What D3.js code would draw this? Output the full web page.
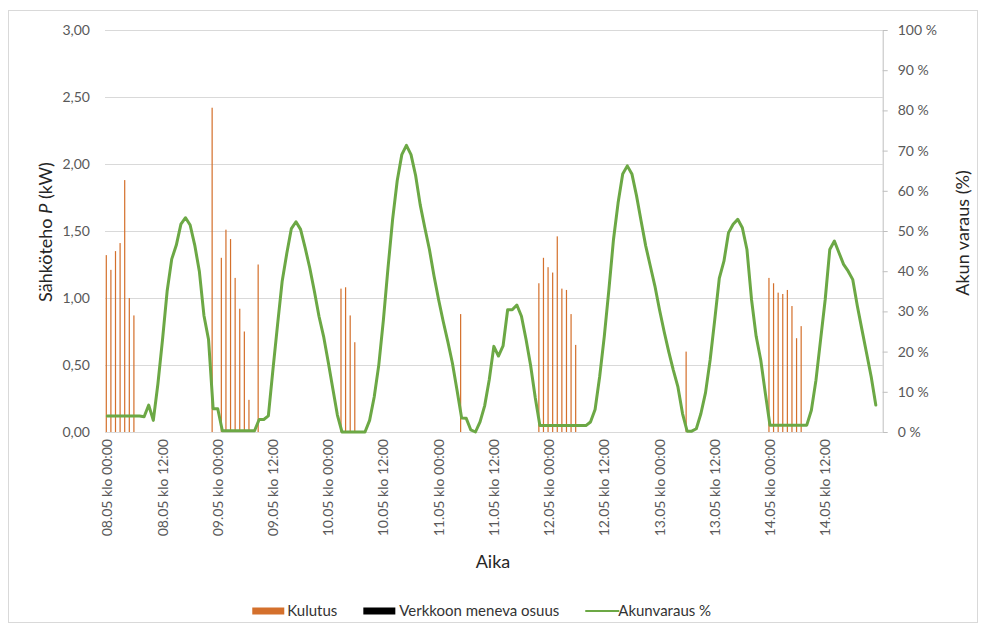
<!DOCTYPE html>
<html>
<head>
<meta charset="utf-8">
<script src="https://cdn.jsdelivr.net/npm/d3@7"></script>
<style>
  body { margin: 0; background: #fff; }
  svg { display: block; }
  text { font-family: Lato, "Open Sans", "Liberation Sans", sans-serif; }
</style>
</head>
<body>
<svg id="chart" width="984" height="629"></svg>
<script>
// ---- data -------------------------------------------------------------
const days = ["08.05", "09.05", "10.05", "11.05", "12.05", "13.05", "14.05"];

const tickLabels = [
  "08.05 klo 00:00", "08.05 klo 12:00", "09.05 klo 00:00", "09.05 klo 12:00",
  "10.05 klo 00:00", "10.05 klo 12:00", "11.05 klo 00:00", "11.05 klo 12:00",
  "12.05 klo 00:00", "12.05 klo 12:00", "13.05 klo 00:00", "13.05 klo 12:00",
  "14.05 klo 00:00", "14.05 klo 12:00"
];

const powerTicks = [0, 0.5, 1, 1.5, 2, 2.5, 3];
const chargeTicks = [0, 10, 20, 30, 40, 50, 60, 70, 80, 90, 100];

// Kulutus (kW), one row per day, hours 00..23
const kulutus = [
  1.32, 1.21, 1.35, 1.41, 1.88, 1.00, 0.87, 0, 0, 0, 0, 0, 0, 0, 0, 0, 0, 0, 0, 0, 0, 0, 0, 2.42,
  0, 1.30, 1.51, 1.44, 1.15, 0.92, 0.75, 0.24, 0, 1.25, 0, 0, 0, 0, 0, 0, 0, 0, 0, 0, 0, 0, 0, 0,
  0, 0, 0, 1.07, 1.08, 0.87, 0.67, 0, 0, 0, 0, 0, 0, 0, 0, 0, 0, 0, 0, 0, 0, 0, 0, 0,
  0, 0, 0, 0, 0, 0.88, 0, 0, 0, 0, 0, 0, 0, 0, 0, 0, 0, 0, 0, 0, 0, 0, 1.11, 1.30,
  1.23, 1.19, 1.46, 1.07, 1.06, 0.88, 0.65, 0, 0, 0, 0, 0, 0, 0, 0, 0, 0, 0, 0, 0, 0, 0, 0, 0,
  0, 0, 0, 0, 0, 0, 0.60, 0, 0, 0, 0, 0, 0, 0, 0, 0, 0, 0, 0, 0, 0, 0, 0, 0,
  1.15, 1.11, 1.04, 1.03, 1.06, 0.94, 0.70, 0.79, 0, 0, 0, 0, 0, 0, 0, 0, 0, 0, 0, 0, 0, 0, 0, 0
];

// Verkkoon meneva osuus (kW)
const verkkoon = [
  0, 0, 0, 0, 0, 0, 0, 0, 0, 0, 0, 0, 0, 0, 0, 0, 0, 0, 0, 0, 0, 0, 0, 0,
  0, 0, 0, 0, 0, 0, 0, 0, 0, 0, 0, 0, 0, 0, 0, 0, 0, 0, 0, 0, 0, 0, 0, 0,
  0, 0, 0, 0, 0, 0, 0, 0, 0, 0, 0, 0, 0, 0, 0, 0, 0, 0, 0, 0, 0, 0, 0, 0,
  0, 0, 0, 0, 0, 0, 0, 0, 0, 0, 0, 0, 0, 0, 0, 0, 0, 0, 0, 0, 0, 0, 0, 0,
  0, 0, 0, 0, 0, 0, 0, 0, 0, 0, 0, 0, 0, 0, 0, 0, 0, 0, 0, 0, 0, 0, 0, 0,
  0, 0, 0, 0, 0, 0, 0, 0, 0, 0, 0, 0, 0, 0, 0, 0, 0, 0, 0, 0, 0, 0, 0, 0,
  0, 0, 0, 0, 0, 0, 0, 0, 0, 0, 0, 0, 0, 0, 0, 0, 0, 0, 0, 0, 0, 0, 0, 0
];

// Akunvaraus (%), one row per day, hours 00..23
const akunvaraus = [
  4.0, 4.0, 4.0, 4.0, 4.0, 4.0, 4.0, 4.0, 3.8, 6.7, 2.9, 12, 23, 35, 43, 46.5, 51.7, 53.3, 51.5, 46.5, 40, 29, 23, 5.8,
  5.8, 0.3, 0.3, 0.3, 0.3, 0.3, 0.3, 0.3, 0.3, 3.1, 3.1, 4.0, 15.6, 26.7, 37.5, 44.4, 50.6, 52.3, 50.4, 45.8, 40.8, 35, 28.8, 23.8,
  17.5, 10.8, 4.2, 0, 0, 0, 0, 0, 0, 2.9, 8.7, 16.7, 27.9, 40.8, 52.9, 62.5, 69, 71.3, 69, 63.8, 56.5, 50.8, 45.4, 38.8,
  32.9, 27.5, 22.5, 17.1, 10.4, 3.5, 3.4, 0.5, 0, 2.5, 6.5, 13, 21.3, 18.9, 21.4, 30.4, 30.4, 31.6, 28.8, 23, 16.5, 8.5, 1.6, 1.6,
  1.6, 1.6, 1.6, 1.6, 1.6, 1.6, 1.6, 1.6, 1.6, 2.5, 5.6, 13.8, 23.8, 35.4, 47.9, 57, 64.2, 66.2, 64.2, 58.8, 52.5, 46.3, 41.3, 36.3,
  30.4, 25, 20, 15.4, 11.2, 4.6, 0.2, 0.2, 0.8, 4.6, 9.8, 17.9, 27.9, 38.3, 42.5, 49.6, 51.7, 52.9, 50.8, 45.4, 32.9, 23.8, 17.9, 9.6,
  1.7, 1.7, 1.7, 1.7, 1.7, 1.7, 1.7, 1.7, 1.7, 5.4, 12.9, 22.9, 32.9, 45.4, 47.5, 44.6, 41.7, 40, 37.9, 31.3, 25.4, 19.6, 13.75, 6.7
];

const seriesNames = ["Kulutus", "Verkkoon meneva osuus", "Akunvaraus %"];
const colors = { kulutus: "#d4702c", verkkoon: "#000000", akku: "#6ca845" };

// hourly categories; the axis ends with one blank category
const hours = d3.range(24).map(h => String(h).padStart(2, "0") + ":00");
const categories = days.flatMap(d => hours.map(h => `${d} klo ${h}`)).concat([""]);

// ---- layout -----------------------------------------------------------
const svg = d3.select("#chart");
const plot = { left: 105, right: 882.7, top: 30, bottom: 432 };
const tickFont = 14;

// chart frame
svg.append("rect")
  .attr("x", 8.5).attr("y", 10.5).attr("width", 969).attr("height", 612)
  .attr("fill", "#fff").attr("stroke", "#d9d9d9").attr("stroke-width", 1);

const x = d3.scaleBand()
  .domain(d3.range(categories.length))
  .range([plot.left, plot.right])
  .padding(0);
const bw = x.bandwidth();

const inner = d3.scaleBand()
  .domain(["kulutus", "verkkoon"])
  .range([bw * 0.15, bw * 0.85])
  .paddingInner(0.4);

const yL = d3.scaleLinear().domain([0, 3]).range([plot.bottom, plot.top]);
const yR = d3.scaleLinear().domain([0, 100]).range([plot.bottom, plot.top]);

// horizontal gridlines
svg.append("g")
  .selectAll("line")
  .data(powerTicks)
  .join("line")
  .attr("x1", plot.left).attr("x2", plot.right)
  .attr("y1", d => Math.round(yL(d)) + 0.5).attr("y2", d => Math.round(yL(d)) + 0.5)
  .attr("stroke", "#d9d9d9").attr("stroke-width", 1);

// left axis
const leftAxis = svg.append("g")
  .attr("transform", `translate(${plot.left},0)`)
  .call(d3.axisLeft(yL)
    .tickValues(powerTicks)
    .tickFormat(d => d.toFixed(2).replace(".", ","))
    .tickSize(0)
    .tickPadding(15));
leftAxis.select(".domain").remove();
leftAxis.selectAll("text")
  .attr("font-size", tickFont).attr("fill", "#595959")
  .style("font-family", "Lato, sans-serif");

// right axis
const rightAxis = svg.append("g")
  .attr("transform", `translate(${plot.right},0)`)
  .call(d3.axisRight(yR)
    .tickValues(chargeTicks)
    .tickFormat(d => d + " %")
    .tickSizeInner(5)
    .tickSizeOuter(0)
    .tickPadding(10));
rightAxis.select(".domain").attr("stroke", "#bfbfbf");
rightAxis.selectAll(".tick line").attr("stroke", "#bfbfbf");
rightAxis.selectAll("text")
  .attr("font-size", tickFont).attr("fill", "#595959")
  .style("font-family", "Lato, sans-serif");

// bottom axis
const tickIdx = tickLabels.map(l => categories.indexOf(l));
const bottomAxis = svg.append("g")
  .attr("transform", `translate(0,${plot.bottom})`)
  .call(d3.axisBottom(x)
    .tickValues(tickIdx)
    .tickFormat(i => categories[i])
    .tickSize(0)
    .tickSizeOuter(0));
bottomAxis.select(".domain").attr("stroke", "#d9d9d9");
bottomAxis.selectAll("text")
  .attr("transform", "rotate(-90)")
  .attr("text-anchor", "end")
  .attr("x", -7)
  .attr("y", 0)
  .attr("dy", "0.36em")
  .attr("font-size", tickFont).attr("fill", "#595959")
  .style("font-family", "Lato, sans-serif");

// columns: Kulutus and Verkkoon meneva osuus
const barGroup = svg.append("g");
barGroup.selectAll("rect.kulutus")
  .data(kulutus.map((v, i) => ({ i, v })).filter(d => d.v > 0))
  .join("rect")
  .attr("class", "kulutus")
  .attr("x", d => x(d.i) + inner("kulutus"))
  .attr("width", inner.bandwidth())
  .attr("y", d => yL(d.v))
  .attr("height", d => yL(0) - yL(d.v))
  .attr("fill", colors.kulutus);
barGroup.selectAll("rect.verkkoon")
  .data(verkkoon.map((v, i) => ({ i, v })).filter(d => d.v > 0))
  .join("rect")
  .attr("class", "verkkoon")
  .attr("x", d => x(d.i) + inner("verkkoon"))
  .attr("width", inner.bandwidth())
  .attr("y", d => yL(d.v))
  .attr("height", d => yL(0) - yL(d.v))
  .attr("fill", colors.verkkoon);

// battery charge line (secondary axis)
const line = d3.line()
  .x((d, i) => x(i) + bw / 2)
  .y(d => yR(d));
svg.append("path")
  .datum(akunvaraus)
  .attr("d", line)
  .attr("fill", "none")
  .attr("stroke", colors.akku)
  .attr("stroke-width", 3)
  .attr("stroke-linejoin", "round")
  .attr("stroke-linecap", "round");

// axis titles
const leftTitle = svg.append("text")
  .attr("transform", `translate(46,232) rotate(-90)`)
  .attr("text-anchor", "middle")
  .attr("dy", "0.35em")
  .attr("font-size", 18)
  .attr("fill", "#262626");
leftTitle.append("tspan").text("Sähköteho ");
leftTitle.append("tspan").attr("font-style", "italic").text("P");
leftTitle.append("tspan").text(" (kW)");

svg.append("text")
  .attr("transform", `translate(963,233) rotate(-90)`)
  .attr("text-anchor", "middle")
  .attr("dy", "0.35em")
  .attr("font-size", 18)
  .attr("fill", "#262626")
  .text("Akun varaus (%)");

svg.append("text")
  .attr("x", 493).attr("y", 562)
  .attr("text-anchor", "middle")
  .attr("dy", "0.35em")
  .attr("font-size", 18)
  .attr("fill", "#262626")
  .text("Aika");

// legend
const legend = svg.append("g");
const legendY = 611;
const keyW = 32;
const items = [
  { name: seriesNames[0], type: "rect", color: colors.kulutus, gap: 3 },
  { name: seriesNames[1], type: "rect", color: colors.verkkoon, gap: 4 },
  { name: seriesNames[2], type: "line", color: colors.akku, gap: 1 }
];
const itemGap = 26;
const nodes = items.map(it => {
  const g = legend.append("g");
  if (it.type === "rect") {
    g.append("rect").attr("x", 0).attr("y", legendY - 3.5)
      .attr("width", keyW).attr("height", 7).attr("fill", it.color);
  } else {
    g.append("line").attr("x1", 0).attr("x2", keyW + 2)
      .attr("y1", legendY).attr("y2", legendY)
      .attr("stroke", it.color).attr("stroke-width", 2);
  }
  const t = g.append("text")
    .attr("x", keyW + it.gap).attr("y", legendY)
    .attr("dy", "0.35em")
    .attr("font-size", 15).attr("fill", "#333")
    .text(it.name);
  const w = keyW + it.gap + t.node().getComputedTextLength();
  return { g, w };
});
const totalW = d3.sum(nodes, n => n.w) + itemGap * (nodes.length - 1);
let cx = 481.7 - totalW / 2;
nodes.forEach(n => {
  n.g.attr("transform", `translate(${cx},0)`);
  cx += n.w + itemGap;
});
</script>
</body>
</html>
